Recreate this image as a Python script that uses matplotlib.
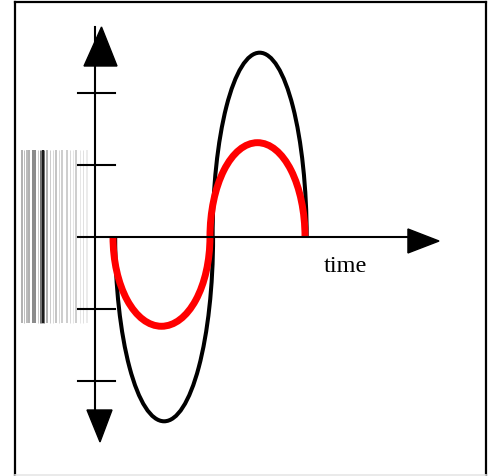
import matplotlib
matplotlib.use("Agg")
import matplotlib.pyplot as plt
from matplotlib.patches import Arc

# wave lobes (x in time units, y in tick units)
lobe_centers = [1.44, 3.43]
lobe_halfwidths = [1.02, 0.98]
black_peaks = [-2.56, 2.56]
red_centers = [1.385, 3.385]
red_halfwidths = [1.01, 0.99]
red_peaks = [-1.24, 1.31]

tick_values = [-2, -1, 1, 2]
axis_label = "time"

# grey bar-code strip: x position, width (px), grey level
stripe_x = [-1.52, -1.47, -1.41, -1.37, -1.28, -1.19, -1.10, -1.08, -0.99,
            -0.93, -0.88, -0.81, -0.74, -0.68, -0.59, -0.52, -0.46, -0.40,
            -0.32, -0.24, -0.16]
stripe_w = [1.5, 1.0, 1.5, 1.5, 4.0, 1.0, 5.0, 2.0, 1.5, 1.0, 1.0, 1.5,
            1.0, 1.5, 1.5, 1.0, 1.0, 1.5, 1.0, 1.0, 2.0]
stripe_grey = [0.6, 0.75, 0.65, 0.6, 0.55, 0.8, 0.45, 0.1, 0.6, 0.8, 0.85,
               0.7, 0.85, 0.75, 0.75, 0.85, 0.9, 0.75, 0.9, 0.88, 0.92]

PX = 100 / 72  # pixels per point

fig = plt.figure(figsize=(4.88, 4.76), dpi=100)
ax = fig.add_axes([15 / 488, 1 / 476, 471 / 488, 473 / 476])
ax.set_xlim(-1.667, 8.146)
ax.set_ylim(-3.306, 3.264)
ax.set_xticks([])
ax.set_yticks([])
for side in ["left", "top", "right"]:
    ax.spines[side].set_linewidth(1.6)
    ax.spines[side].set_color("black")
ax.spines["bottom"].set_color("#e6e6e6")
ax.spines["bottom"].set_linewidth(1.2)

# grey strip
for x, w, g in zip(stripe_x, stripe_w, stripe_grey):
    ax.vlines(x, -1.194, 1.208, colors=str(g), linewidth=w / PX, zorder=1)

# curves
for c, a, p in zip(lobe_centers, lobe_halfwidths, black_peaks):
    t1, t2 = (180, 360) if p < 0 else (0, 180)
    ax.add_patch(Arc((c, 0), 2 * a, 2 * abs(p), theta1=t1, theta2=t2,
                     color="black", linewidth=2.9, zorder=2))
for c, a, p in zip(red_centers, red_halfwidths, red_peaks):
    t1, t2 = (180, 360) if p < 0 else (0, 180)
    ax.add_patch(Arc((c, 0), 2 * a, 2 * abs(p), theta1=t1, theta2=t2,
                     color="red", linewidth=5, zorder=3))

# axes with arrows
ax.plot([0, 0], [2.917, -2.403], color="black", lw=1.5, zorder=4)
ax.plot([-0.354, 6.52], [0, 0], color="black", lw=1.5, zorder=4)
ax.fill([-0.229, 0.135, 0.458], [2.375, 2.917, 2.375], color="black", zorder=4)
ax.fill([-0.167, 0.104, 0.354], [-2.403, -2.847, -2.403], color="black", zorder=4)
ax.fill([6.52, 7.167, 6.52], [0.111, -0.056, -0.222], color="black", zorder=4)

for v in tick_values:
    ax.plot([-0.354, 0.417], [v, v], color="black", lw=1.5, zorder=4)

ax.text(5.21, -0.486, axis_label, family="Liberation Serif", fontsize=17.5,
        ha="center", va="baseline")

fig.savefig("out.png", dpi=100)
